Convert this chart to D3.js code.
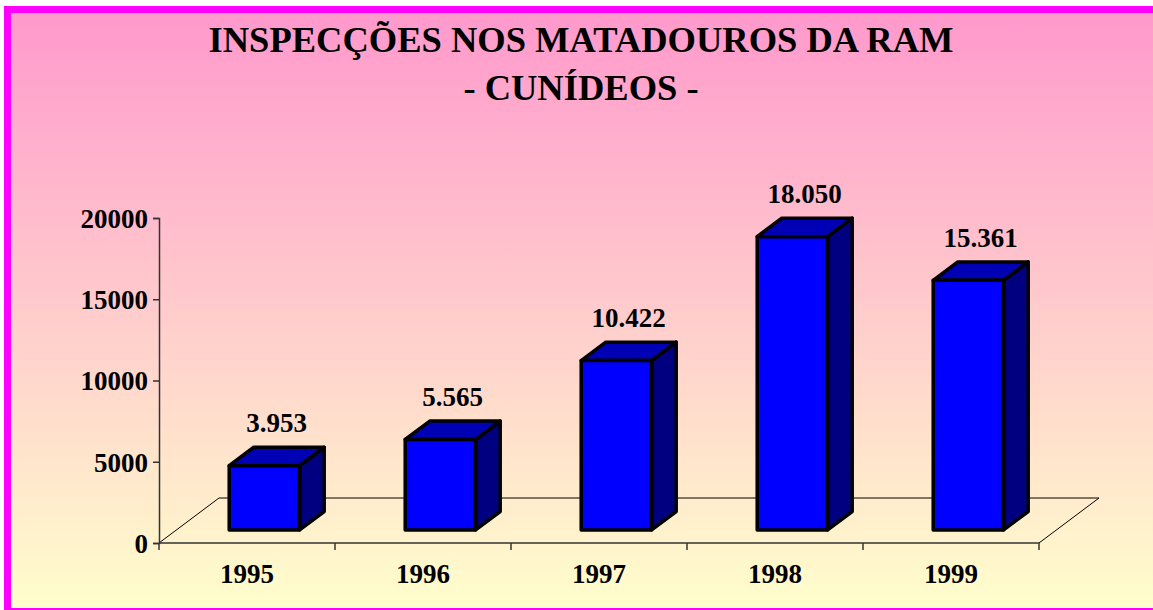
<!DOCTYPE html>
<head>
<meta charset="utf-8">
<script src="https://cdn.jsdelivr.net/npm/d3@7"></script>
<style>
body { margin: 0; background: #fff; }
text { font-family: "Liberation Serif", "Times New Roman", serif; font-weight: bold; fill: #000; }
</style>
</head>
<body>
<div id="chart"></div>
<script>
// chart data
var years = ["1995", "1996", "1997", "1998", "1999"];
var values = [3953, 5565, 10422, 18050, 15361];
var yTicks = [0, 5000, 10000, 15000, 20000];
var titleLines = ["INSPECÇÕES NOS MATADOUROS DA RAM", "- CUNÍDEOS -"];

var W = 1153, H = 610;

// portuguese number format for the value labels (3.953)
var pt = d3.formatLocale({decimal: ",", thousands: ".", grouping: [3], currency: ["", "€"]});
var fmt = pt.format(",");

var svg = d3.select("#chart").append("svg")
    .attr("width", W)
    .attr("height", H);

// background gradient
var grad = svg.append("defs").append("linearGradient")
    .attr("id", "bg").attr("x1", 0).attr("y1", 0).attr("x2", 0).attr("y2", 1);
grad.append("stop").attr("offset", "0%").attr("stop-color", "#ff99cc");
grad.append("stop").attr("offset", "100%").attr("stop-color", "#ffffcc");

svg.append("rect")
    .attr("x", 7.5).attr("y", 9.5)
    .attr("width", 1160).attr("height", 602)
    .attr("fill", "url(#bg)")
    .attr("stroke", "#ff00ff")
    .attr("stroke-width", 7);

// title
svg.selectAll(".title")
    .data(titleLines)
  .enter().append("text")
    .attr("class", "title")
    .attr("x", 581)
    .attr("y", function(d, i) { return 52 + i * 48; })
    .attr("text-anchor", "middle")
    .style("font-size", "36.5px")
    .text(function(d) { return d; });

// scales (front plane)
var x = d3.scaleBand().domain(years).range([159, 1039]).paddingInner(0.6).paddingOuter(0.3);
var y = d3.scaleLinear().domain([0, 20000]).range([543, 218]);

// depth of the floor and of the bars
var depth = {dx: 60, dy: -45};
var front = 0.29, back = 0.70;
var fx = depth.dx * front, fy = depth.dy * front;
var bx = depth.dx * back, by = depth.dy * back;

var x0 = x.range()[0], x1 = x.range()[1], y0 = y(0);

// floor
svg.append("path")
    .attr("d", "M" + x0 + "," + y0 +
               "L" + (x0 + depth.dx) + "," + (y0 + depth.dy) +
               "L" + (x1 + depth.dx) + "," + (y0 + depth.dy) +
               "L" + x1 + "," + y0)
    .attr("fill", "none")
    .attr("stroke", "#000")
    .attr("stroke-width", 1);

// category boundary ticks
var bounds = d3.range(years.length + 1).map(function(i) { return x0 + i * x.step(); });
svg.selectAll(".ctick")
    .data(bounds)
  .enter().append("line")
    .attr("x1", function(d) { return d; }).attr("x2", function(d) { return d; })
    .attr("y1", y0).attr("y2", y0 + 7)
    .attr("stroke", "#333").attr("stroke-width", 1.5);

// front floor edge (category axis)
svg.append("line")
    .attr("x1", x0).attr("x2", x1)
    .attr("y1", y0).attr("y2", y0)
    .attr("stroke", "#333").attr("stroke-width", 1.5);

// Y axis
var yAxis = svg.append("g")
    .attr("transform", "translate(" + x0 + ",0)")
    .call(d3.axisLeft(y).tickValues(yTicks).tickFormat(d3.format("d")).tickSize(6).tickPadding(5));
yAxis.select(".domain").attr("stroke", "#333").attr("stroke-width", 1.5);
yAxis.selectAll(".tick line").attr("stroke", "#333").attr("stroke-width", 1.5);
yAxis.selectAll(".tick text")
    .attr("fill", "#000")
    .attr("dy", "0.35em")
    .style("font-family", "'Liberation Serif', 'Times New Roman', serif")
    .style("font-weight", "bold")
    .style("font-size", "27px");

// bars
var data = years.map(function(d, i) { return {year: d, value: values[i]}; });
var bw = x.bandwidth();

var bars = svg.selectAll(".bar")
    .data(data)
  .enter().append("g")
    .attr("class", "bar");

function pts(arr) { return arr.map(function(p) { return p.join(","); }).join(" "); }

bars.append("polygon")
    .attr("points", function(d) {
      var l = x(d.year), r = l + bw, t = y(d.value);
      return pts([[r + fx, t + fy], [r + bx, t + by], [r + bx, y0 + by], [r + fx, y0 + fy]]);
    })
    .attr("fill", "#000080");

bars.append("polygon")
    .attr("points", function(d) {
      var l = x(d.year), r = l + bw, t = y(d.value);
      return pts([[l + fx, t + fy], [l + bx, t + by], [r + bx, t + by], [r + fx, t + fy]]);
    })
    .attr("fill", "#0000b4");

bars.append("rect")
    .attr("x", function(d) { return x(d.year) + fx; })
    .attr("y", function(d) { return y(d.value) + fy; })
    .attr("width", bw)
    .attr("height", function(d) { return y0 - y(d.value); })
    .attr("fill", "#0000ff");

bars.selectAll("polygon, rect")
    .attr("stroke", "#000")
    .attr("stroke-width", 3.5)
    .attr("stroke-linejoin", "round");

// value labels
bars.append("text")
    .attr("x", function(d) { return x(d.year) + bw / 2 + (fx + bx) / 2; })
    .attr("y", function(d) { return y(d.value) + by - 15; })
    .attr("text-anchor", "middle")
    .style("font-size", "27px")
    .text(function(d) { return fmt(d.value); });

// category labels
svg.selectAll(".year")
    .data(years)
  .enter().append("text")
    .attr("class", "year")
    .attr("x", function(d) { return x(d) + bw / 2; })
    .attr("y", 583)
    .attr("text-anchor", "middle")
    .style("font-size", "27px")
    .text(function(d) { return d; });

// white strip above the border
svg.append("rect").attr("x", 0).attr("y", 0).attr("width", W).attr("height", 6).attr("fill", "#fff");
svg.append("rect").attr("x", 0).attr("y", 0).attr("width", 4).attr("height", H).attr("fill", "#fff");
</script>
</body>
